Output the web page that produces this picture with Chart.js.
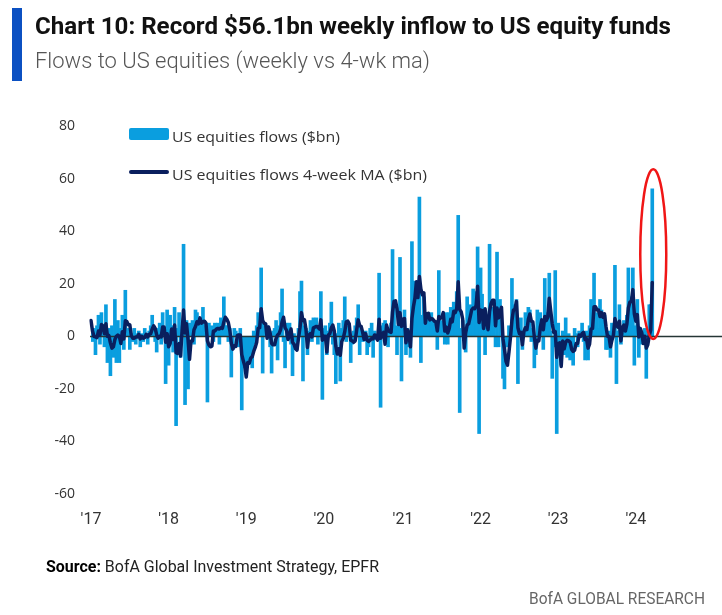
<!DOCTYPE html>
<html><head><meta charset="utf-8">
<script src="https://cdn.jsdelivr.net/npm/chart.js@4.4.1/dist/chart.umd.min.js"></script>
<style>
html,body{margin:0;padding:0;background:#fff;width:722px;height:615px;overflow:hidden;}
#wrap{position:relative;width:722px;height:615px;}
#c{position:absolute;left:0;top:0;}
.t{position:absolute;white-space:nowrap;transform-origin:0 50%;line-height:1;}
.cond{font-family:'Liberation Sans Narrow','Roboto',sans-serif;}
</style></head><body>
<div id="wrap">
<canvas id="c" width="722" height="615"></canvas>
<div style="position:absolute;left:12px;top:8px;width:10px;height:73px;background:#0b50c2"></div>
<div class="t cond" id="title" data-w="636" style="left:35px;top:14px;font-size:24px;font-weight:bold;color:#111">Chart 10: Record $56.1bn weekly inflow to US equity funds</div>
<div class="t cond" id="sub" data-w="395" style="left:35px;top:50px;font-size:22px;font-weight:300;color:#555">Flows to US equities (weekly vs 4-wk ma)</div>
<div style="position:absolute;left:129px;top:128px;width:40px;height:12px;background:#0a9edf;border-radius:2px"></div>
<div class="t" data-w="168" style="left:172px;top:126px;font:15px 'Open Sans',sans-serif;color:#333">US equities flows ($bn)</div>
<div style="position:absolute;left:129px;top:170px;width:40px;height:4px;background:#0a1f5e;border-radius:2px"></div>
<div class="t" data-w="255" style="left:172px;top:164px;font:15px 'Open Sans',sans-serif;color:#333">US equities flows 4-week MA ($bn)</div>
<div class="t cond" id="src" data-w="333" style="left:46px;top:558px;font-size:17px;color:#222"><b style="color:#000">Source:</b> BofA Global Investment Strategy, EPFR</div>
<div class="t cond" id="foot" data-w="176" style="left:529px;top:590px;font-size:17px;color:#666">BofA GLOBAL RESEARCH</div>
</div>
<script>
// Weekly US equity fund flows ($bn), first week of 2017 to mid-March 2024
const weeklyFlows = [
// 2017
5,-2,3,-7,4,8,-3,9,2,-4,12,-10,3,-15,4,-8,14,-10,6,-10,3,8,-5,17.5,2,3,-5,1,-2,3,-3,1,2,-4,1,-2,3,1,-3,2,4,8,2,-2,-6,3,5,-3,9,3,-18,10,
// 2018
-11,8,4,-6,11,-34,3,9,-8,4,35,-26,6,-20,5,2,6,-3,10,9,3,6,2,11,4,3,-25,5,1,4,-2,5,4,5,-3,7,3,15,4,4,-2,3,-15.5,-5,3,2,1,-4,3,-28,-8,-12,
// 2019
-14,-6,-9,-4,-12,2,-3,4,9,3,26,-14,5,2,4,3,-4,-14,2,3,6,-9,4,9,18,-2,-12,5,4,5,-3,-15,1,-2,-5,3,17,21,-17,4,3,-7,2,6,-2,7,3,7,-3,4,17,-24,
// 2020
3,4,-7,2,5,13,-3,-7,-18,1,5,-17,3,6,15,-2,4,2,-10,-3,2,4,7,12,-7,3,-2,1,2,-7,-4,3,5,-8,2,-1,1,24,-27,4,5,6,2,-4,3,5,33,12,4,-7,9,30,
// 2021
-17,4,10,-7,3,-4,-8,36,21,9,17,12,53,-10,8,15,7,4,9,5,9,3,6,4,-5,25,3,6,2,-3,9,-3,9,11,5,13,7,17,46,-29,3,6,2,-6,15,8,12,5,18,7,17,34,-37,
// 2022
26,16,7,-7,6,4,35,5,11,4,-4,32,-4,14,2,-16,-20,-4,-4,4,2,22,12,5,14,-18,3,7,-5,2,9,4,11,10,-2,3,-12,-7,10,2,9,4,-5,22,3,9,24,2,-16,-4,25,
// 2023
-37,5,-3,-11,2,-7,7,-8,1,-9,-4,-11,3,1,-4,2,1,5,-2,-9,2,-9,4,14,3,24,4,9,3,14,10,2,8,-5,-5,2,-8,5,3,27,-18,2,12,-3,2,6,3,8,26,15,4,26,-11,
// 2024
4,14,-8,2,-3,-2,3,-16,2,12,12,56.1
];
// 4-week moving average ($bn)
const maFlows = [
// 2017
6,2,0,-0.25,-0.5,2,0.5,4.5,4,1,4.75,0,0.25,-2.5,-4.5,-4,-1.25,0,0.5,0,-2.75,1.75,-1,5.9,5.6,4.4,4.4,0.25,-0.75,-0.75,-0.25,-0.25,0.75,-1,0,-0.75,-0.5,0.75,-0.25,0.75,1,2.75,4,3,0.5,-0.75,0,-0.25,3.5,3.5,-2.25,1,
// 2018
-4,-2.75,2.75,-1.25,4.25,-6.25,-6.5,-2.75,-7.5,2,10,1.25,4.75,-1.25,-8.75,-1.75,-1.75,2.5,3.75,5.5,4.75,7,5,5.5,5.75,5,-1.75,-3.25,-4,-3.75,2,2,2.75,3,2.75,3.25,3,5.5,7.25,6.5,5.25,2.25,-2.6,-4.9,-3.6,-3.9,0.25,0.5,0.5,-7,-9.25,-11.25,
// 2019
-15.5,-10,-10.25,-8.25,-7.75,-5.75,-4.25,-2.25,3,3.25,10.5,6,5,4.75,-0.75,3.5,1.25,-2.75,-3.25,-3.25,-0.75,0.5,1,2.5,5.5,7.25,3.25,2.25,-1.25,0.5,2.75,-2.25,-3,-4.75,-5.25,-0.75,3.25,9,6,6.25,2.75,-4.25,0.5,1,-0.25,3.25,3.5,3.75,3.5,2.75,6.25,-1.5,
// 2020
0,0,-6,0.5,1,3.25,4.25,2,-3.75,-6.75,-4.75,-7.25,-2,-0.75,1.75,5.5,5.75,4.75,-1.5,-1.75,-2.25,-1.75,2.5,6.25,4,3.75,1.5,-1.25,1,-1.5,-2,-1.5,-0.75,-1,0.5,-0.5,-1.5,6.5,-0.75,0.5,1.5,-3,4.25,2.25,1.75,1.5,9.25,13.25,13.5,10.5,4.5,9,
// 2021
3.75,6.5,6.75,-2.5,2.5,0.5,-4,6.75,11.25,14.5,20.75,14.75,22.75,18,15.75,16.5,5,8.5,8.75,6.25,6.75,6.5,5.75,5.5,2,7.5,6.75,7.25,9,2,3.5,1.25,3,6.5,5.5,9.5,9,10.5,20.75,10.25,9.25,6.5,-4.5,1.25,4.25,4.75,7.25,10,10.75,10.5,11.75,19,5.25,
// 2022
10,9.75,3,10.5,5.5,2.5,9.5,12.5,13.75,13.75,4,10.75,7,9.5,11,-1,-5,-9.5,-11,-6,-0.5,6,10,10.25,13.25,3.25,1,1.5,-3.25,1.75,3.25,2.5,6.5,8.5,5.75,5.5,-0.25,-4.5,-1.5,-1.75,3.5,6.25,2.5,7.5,6,7.25,14.5,9.5,4.75,1.5,1.75,
// 2023
-8,-2.75,-2.5,-11.5,-1.75,-4.75,-2.25,-1.5,-1.75,-2.25,-5,-5.75,-5.25,-2.75,-2.75,0.5,0,1,1.5,-1.25,-1,-4.5,-3,2.75,3,11.25,11.25,10,10,7.5,9,7.25,8.5,3.75,0,0,-4,-1.5,0.5,6.75,4.25,3.5,5.75,-1.75,3.25,4.25,2,4.75,10.75,13,13.25,17.75,8.5,
// 2024
5.75,8.25,-0.25,3,1.25,-2.75,0,-4.5,-3.25,0.25,2.5,20.5
];
const yearLabels = ["'17","'18","'19","'20","'21","'22","'23","'24","'25"];
const firstYear = 2017;
const firstWeek = Date.UTC(2017, 0, 4);
const axisWeeks = 413; // x axis runs past the last data week
const yMin = -60, yMax = 80, yStep = 20;

const weeks = [];
for (let i = 0; i < axisWeeks; i++) {
  weeks.push(new Date(firstWeek + i * 7 * 86400000).toISOString().slice(0, 10));
}

// fit text to target widths
document.querySelectorAll('[data-w]').forEach(el => {
  const w = el.getBoundingClientRect().width;
  const target = +el.dataset.w;
  if (w > 0) el.style.transform = 'scaleX(' + (target / w).toFixed(4) + ')';
});

const overlay = {
  id: 'overlay',
  afterDatasetDraw(chart, args) {
    if (args.index !== 0) return;
    const { ctx, chartArea, scales: { y } } = chart;
    const y0 = Math.round(y.getPixelForValue(0)) + 0.5;
    ctx.save();
    ctx.strokeStyle = '#253535';
    ctx.lineWidth = 1.3;
    ctx.beginPath();
    ctx.moveTo(chartArea.left - 1, y0);
    ctx.lineTo(chart.width, y0);
    ctx.stroke();
    ctx.restore();
  },
  afterDraw(chart) {
    const { ctx, scales: { x, y } } = chart;
    const last = weeklyFlows.length - 1;
    const cx = x.getPixelForValue(last) + 1;
    const top = y.getPixelForValue(63.5);
    const bot = y.getPixelForValue(-1);
    ctx.save();
    ctx.strokeStyle = '#f01616';
    ctx.lineWidth = 2.5;
    ctx.beginPath();
    ctx.ellipse(cx, (top + bot) / 2, 13, (bot - top) / 2, 0, 0, Math.PI * 2);
    ctx.stroke();
    ctx.restore();
  }
};

new Chart(document.getElementById('c'), {
  type: 'bar',
  data: {
    labels: weeks,
    datasets: [
      {
        label: 'US equities flows ($bn)',
        data: weeklyFlows,
        backgroundColor: '#0a9edf',
        barThickness: 3,
        order: 2
      },
      {
        type: 'line',
        label: 'US equities flows 4-week MA ($bn)',
        data: maFlows,
        borderColor: '#0a1f5e',
        borderWidth: 3.5,
        pointRadius: 0,
        tension: 0,
        borderJoinStyle: 'round',
        borderCapStyle: 'round',
        order: 1
      }
    ]
  },
  options: {
    responsive: false,
    animation: false,
    devicePixelRatio: 1,
    layout: { padding: { top: 126, left: 0, right: 1, bottom: 0 } },
    plugins: { legend: { display: false }, tooltip: { enabled: false } },
    scales: {
      x: {
        type: 'category',
        offset: false,
        grid: { display: false, drawTicks: false },
        border: { display: false },
        afterFit: s => { s.height = 121; },
        ticks: {
          autoSkip: false, maxRotation: 0, minRotation: 0, padding: 16,
          color: '#333',
          font: { family: "'Liberation Sans Narrow', Roboto, sans-serif", size: 16 },
          callback: function (v, i) {
            const yr = weeks[i].slice(0, 4);
            const prev = i > 0 ? weeks[i - 1].slice(0, 4) : null;
            return yr !== prev ? yearLabels[+yr - firstYear] : '';
          }
        }
      },
      y: {
        min: yMin, max: yMax,
        grid: { display: false, drawTicks: false },
        border: { display: false },
        afterFit: s => { s.width = 91; },
        ticks: {
          stepSize: yStep, padding: 16, color: '#333',
          font: { family: "'Open Sans', sans-serif", size: 14 }
        }
      }
    }
  },
  plugins: [overlay]
});
</script>
</body></html>
